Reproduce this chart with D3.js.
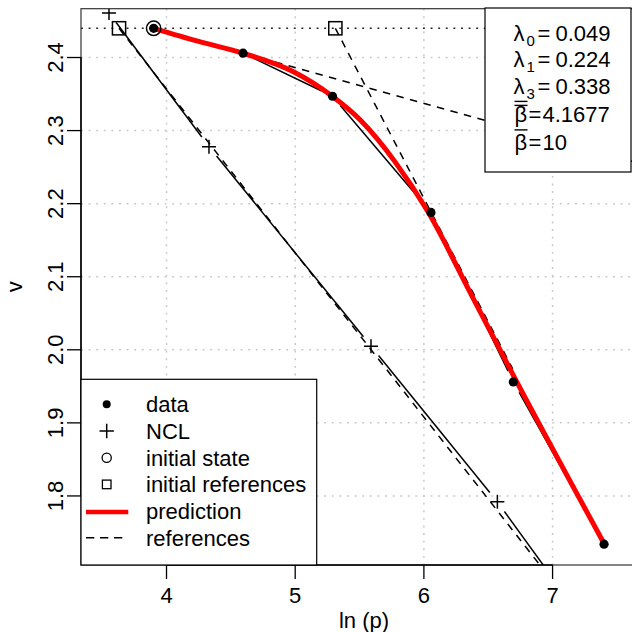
<!DOCTYPE html>
<html>
<head>
<meta charset="utf-8">
<script src="https://cdn.jsdelivr.net/npm/d3@7"></script>
<style>
  body { margin: 0; background: #fff; }
  svg { display: block; font-family: "Liberation Sans", Arial, sans-serif; }
</style>
</head>
<body>
<script>
// data (ln p, v)
var dataLnP = [3.90, 4.595, 5.29, 6.055, 6.695, 7.40];
var dataV   = [2.440, 2.406, 2.347, 2.188, 1.956, 1.734];

var nclLnP = [3.553, 4.330, 5.589, 6.571, 7.30];
var nclV   = [2.461, 2.278, 2.005, 1.792, 1.615];

var initLnP = [3.90];
var initV   = [2.44];

var initRefLnP = [3.631, 5.312];
var initRefV   = [2.44, 2.44];

var predLnP = [3.90, 4.243, 4.592, 4.983, 5.286, 5.504, 5.776, 6.032, 6.374, 6.722, 7.402];
var predV   = [2.440, 2.4224, 2.406, 2.3808, 2.3472, 2.3147, 2.2572, 2.1888, 2.0734, 1.9561, 1.7343];

// reference lines (start -> end)
var refStartLnP = [3.631, 5.312, 3.90];
var refStartV   = [2.44, 2.44, 2.44];
var refEndLnP   = [7.30, 6.69, 7.74];
var refEndV     = [1.616, 1.974, 2.252];

var xTicks = [4, 5, 6, 7];
var yTicks = [1.8, 1.9, 2.0, 2.1, 2.2, 2.3, 2.4];

var paramNames = ["λ", "λ", "λ"];
var paramSubs  = ["0", "1", "3"];
var paramVals  = ["0.049", "0.224", "0.338"];
var betaVals   = ["4.1677", "10"];

var legendLabels = ["data", "NCL", "initial state", "initial references", "prediction", "references"];

var W = 632, H = 632;
var pL = 81, pR = 648, pT = 8.7, pB = 565;

var svg = d3.select("body").append("svg")
    .attr("width", W).attr("height", H);

var x = d3.scaleLinear().domain([3.3355, 7.7415]).range([pL, pR]);
var y = d3.scaleLinear().domain([1.7055, 2.4668]).range([pB, pT]);

svg.append("clipPath").attr("id", "plotclip")
  .append("rect")
    .attr("x", pL).attr("y", pT)
    .attr("width", pR - pL).attr("height", pB - pT);

var plot = svg.append("g").attr("clip-path", "url(#plotclip)");

// grid
plot.selectAll(".vgrid").data(xTicks).enter().append("line")
    .attr("x1", function(d){ return x(d); }).attr("x2", function(d){ return x(d); })
    .attr("y1", pT).attr("y2", pB)
    .attr("stroke", "#c8c8c8").attr("stroke-width", 1.5)
    .attr("stroke-dasharray", "1.9 5.7");
plot.selectAll(".hgrid").data(yTicks).enter().append("line")
    .attr("x1", pL).attr("x2", pR)
    .attr("y1", function(d){ return y(d); }).attr("y2", function(d){ return y(d); })
    .attr("stroke", "#c8c8c8").attr("stroke-width", 1.5)
    .attr("stroke-dasharray", "1.9 5.7");

// horizontal line at the initial state
plot.append("line")
    .attr("x1", pL).attr("x2", pR)
    .attr("y1", y(initV[0])).attr("y2", y(initV[0]))
    .attr("stroke", "#222").attr("stroke-width", 1.4)
    .attr("stroke-dasharray", "1.9 5.7");

// reference lines
plot.selectAll(".ref").data(refStartLnP).enter().append("line")
    .attr("x1", function(d){ return x(d); })
    .attr("y1", function(d, i){ return y(refStartV[i]); })
    .attr("x2", function(d, i){ return x(refEndLnP[i]); })
    .attr("y2", function(d, i){ return y(refEndV[i]); })
    .attr("stroke", "#000").attr("stroke-width", 1.5)
    .attr("stroke-dasharray", "7.5 6.5");

// line with gaps around points (like type = "b")
function gapLines(xs, ys, gap) {
    var segs = [];
    for (var i = 0; i < xs.length - 1; i++) {
        var x0 = x(xs[i]), y0 = y(ys[i]), x1 = x(xs[i+1]), y1 = y(ys[i+1]);
        var len = Math.sqrt((x1-x0)*(x1-x0) + (y1-y0)*(y1-y0));
        if (len <= 2 * gap) continue;
        var ux = (x1-x0)/len, uy = (y1-y0)/len;
        segs.push([x0 + ux*gap, y0 + uy*gap, x1 - ux*gap, y1 - uy*gap]);
    }
    return segs;
}

plot.selectAll(".ncl").data(gapLines(nclLnP, nclV, 12)).enter().append("line")
    .attr("x1", function(d){ return d[0]; }).attr("y1", function(d){ return d[1]; })
    .attr("x2", function(d){ return d[2]; }).attr("y2", function(d){ return d[3]; })
    .attr("stroke", "#000").attr("stroke-width", 1.5);

plot.selectAll(".dline").data(gapLines(dataLnP, dataV, 12)).enter().append("line")
    .attr("x1", function(d){ return d[0]; }).attr("y1", function(d){ return d[1]; })
    .attr("x2", function(d){ return d[2]; }).attr("y2", function(d){ return d[3]; })
    .attr("stroke", "#000").attr("stroke-width", 1.5);

// prediction
var predLine = d3.line()
    .x(function(d){ return x(d[0]); })
    .y(function(d){ return y(d[1]); })
    .curve(d3.curveMonotoneX);
plot.append("path")
    .datum(predLnP.map(function(d, i){ return [d, predV[i]]; }))
    .attr("d", predLine)
    .attr("fill", "none").attr("stroke", "#ff0000").attr("stroke-width", 5)
    .attr("stroke-linecap", "butt");

// NCL markers
function plusPath(cx, cy, s) {
    return "M" + (cx-s) + "," + cy + "H" + (cx+s) + "M" + cx + "," + (cy-s) + "V" + (cy+s);
}
plot.selectAll(".nclpt").data(nclLnP).enter().append("path")
    .attr("d", function(d, i){ return plusPath(x(d), y(nclV[i]), 7); })
    .attr("stroke", "#000").attr("stroke-width", 1.5).attr("fill", "none");

// data points
plot.selectAll(".dpt").data(dataLnP).enter().append("circle")
    .attr("cx", function(d){ return x(d); })
    .attr("cy", function(d, i){ return y(dataV[i]); })
    .attr("r", 4.6).attr("fill", "#000");

// initial references
plot.selectAll(".iref").data(initRefLnP).enter().append("rect")
    .attr("x", function(d){ return x(d) - 6.6; })
    .attr("y", function(d, i){ return y(initRefV[i]) - 6.6; })
    .attr("width", 13.2).attr("height", 13.2)
    .attr("fill", "none").attr("stroke", "#000").attr("stroke-width", 1.5);

// initial state
plot.selectAll(".init").data(initLnP).enter().append("circle")
    .attr("cx", function(d){ return x(d); })
    .attr("cy", function(d, i){ return y(initV[i]); })
    .attr("r", 7.2).attr("fill", "none").attr("stroke", "#000").attr("stroke-width", 1.5);

// box
svg.append("rect")
    .attr("x", pL).attr("y", pT)
    .attr("width", pR - pL).attr("height", pB - pT)
    .attr("fill", "none").attr("stroke", "#333").attr("stroke-width", 1.2);

// axes
var xAxis = svg.append("g").attr("transform", "translate(0," + pB + ")");
xAxis.append("line")
    .attr("x1", x(xTicks[0])).attr("x2", x(xTicks[xTicks.length-1]))
    .attr("stroke", "#000").attr("stroke-width", 1.5);
xAxis.selectAll(".tk").data(xTicks).enter().append("line")
    .attr("x1", function(d){ return x(d); }).attr("x2", function(d){ return x(d); })
    .attr("y1", 0).attr("y2", 14)
    .attr("stroke", "#000").attr("stroke-width", 1.3);
xAxis.selectAll(".tl").data(xTicks).enter().append("text")
    .attr("x", function(d){ return x(d); }).attr("y", 38)
    .attr("text-anchor", "middle").attr("font-size", 22)
    .text(function(d){ return d; });

var yAxis = svg.append("g").attr("transform", "translate(" + pL + ",0)");
yAxis.append("line")
    .attr("y1", y(yTicks[0])).attr("y2", y(yTicks[yTicks.length-1]))
    .attr("stroke", "#000").attr("stroke-width", 1.5);
yAxis.selectAll(".tk").data(yTicks).enter().append("line")
    .attr("y1", function(d){ return y(d); }).attr("y2", function(d){ return y(d); })
    .attr("x1", 0).attr("x2", -14)
    .attr("stroke", "#000").attr("stroke-width", 1.3);
yAxis.selectAll(".tl").data(yTicks).enter().append("text")
    .attr("transform", function(d){ return "translate(-18," + y(d) + ") rotate(-90)"; })
    .attr("text-anchor", "middle").attr("font-size", 22)
    .text(function(d){ return d3.format(".1f")(d); });

svg.append("text")
    .attr("x", 364).attr("y", 628)
    .attr("text-anchor", "middle").attr("font-size", 22)
    .text("ln (p)");
svg.append("text")
    .attr("transform", "translate(22," + ((pT + pB) / 2) + ") rotate(-90)")
    .attr("text-anchor", "middle").attr("font-size", 22)
    .text("v");

// parameter box
var pbox = svg.append("g");
pbox.append("rect")
    .attr("x", 485).attr("y", 8).attr("width", 146).attr("height", 164)
    .attr("fill", "#fff").attr("stroke", "#000").attr("stroke-width", 1.2);
var rowBase = [40.6, 67.2, 93.9, 122.4, 149.9];
paramNames.forEach(function(nm, i) {
    var t = pbox.append("text").attr("font-size", 22).attr("y", rowBase[i]);
    t.append("tspan").attr("x", 513.5).text(nm);
    t.append("tspan").attr("x", 526.5).attr("dy", 5).attr("font-size", 15).text(paramSubs[i]);
    t.append("tspan").attr("x", 537.5).attr("dy", -5).text("=");
    t.append("tspan").attr("x", 555.5).text(paramVals[i]);
});
betaVals.forEach(function(v, j) {
    var b = rowBase[3 + j];
    var t = pbox.append("text").attr("font-size", 22).attr("y", b);
    t.append("tspan").attr("x", 514.5).text("β");
    t.append("tspan").attr("x", 528.5).text("=");
    t.append("tspan").attr("x", 542.5).text(v);
    var lines = j === 0 ? [-21, -17] : [-20];
    lines.forEach(function(off) {
        pbox.append("line")
            .attr("x1", 514.5).attr("x2", 527.5)
            .attr("y1", b + off).attr("y2", b + off)
            .attr("stroke", "#000").attr("stroke-width", 1.4);
    });
});

// legend
var leg = svg.append("g");
leg.append("rect")
    .attr("x", pL).attr("y", 379.3).attr("width", 316.7 - pL).attr("height", pB - 379.3)
    .attr("fill", "#fff").attr("stroke", "#000").attr("stroke-width", 1.2);
var ly = legendLabels.map(function(d, i){ return 404.3 + i * 26.7; });
var sx = 106.7;
leg.append("circle").attr("cx", sx).attr("cy", ly[0]).attr("r", 4).attr("fill", "#000");
leg.append("path").attr("d", plusPath(sx, ly[1], 7.2))
    .attr("stroke", "#000").attr("stroke-width", 1.5).attr("fill", "none");
leg.append("circle").attr("cx", sx).attr("cy", ly[2]).attr("r", 4.6)
    .attr("fill", "none").attr("stroke", "#000").attr("stroke-width", 1.3);
leg.append("rect").attr("x", sx - 4.3).attr("y", ly[3] - 4.3).attr("width", 8.6).attr("height", 8.6)
    .attr("fill", "none").attr("stroke", "#000").attr("stroke-width", 1.3);
leg.append("line").attr("x1", 86).attr("x2", 128.3).attr("y1", ly[4] + 1).attr("y2", ly[4] + 1)
    .attr("stroke", "#ff0000").attr("stroke-width", 4.5);
leg.append("line").attr("x1", 86).attr("x2", 123).attr("y1", ly[5]).attr("y2", ly[5])
    .attr("stroke", "#000").attr("stroke-width", 1.4).attr("stroke-dasharray", "8.3 5.7");
leg.selectAll(".lt").data(legendLabels).enter().append("text")
    .attr("x", 146).attr("y", function(d, i){ return ly[i] + 7.9; })
    .attr("font-size", 22)
    .text(function(d){ return d; });
</script>
</body>
</html>
